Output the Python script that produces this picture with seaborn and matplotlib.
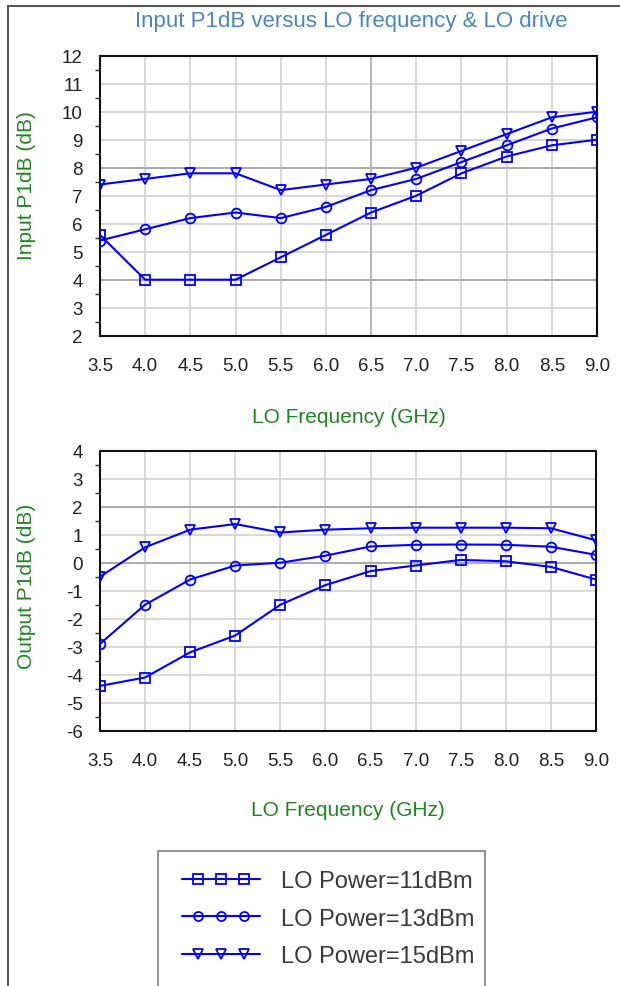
import numpy as np
import pandas as pd
import matplotlib
matplotlib.use("Agg")
import matplotlib.pyplot as plt
import seaborn as sns
from matplotlib.lines import Line2D
from matplotlib.legend_handler import HandlerLine2D
from matplotlib.patches import Rectangle
from matplotlib.ticker import MultipleLocator, FormatStrFormatter

# ---------------- data ----------------
freq = [3.5, 4.0, 4.5, 5.0, 5.5, 6.0, 6.5, 7.0, 7.5, 8.0, 8.5, 9.0]
series_labels = ["LO Power=11dBm", "LO Power=13dBm", "LO Power=15dBm"]

in_p1db_11 = [5.6, 4.0, 4.0, 4.0, 4.8, 5.6, 6.4, 7.0, 7.8, 8.4, 8.8, 9.0]
in_p1db_13 = [5.4, 5.8, 6.2, 6.4, 6.2, 6.6, 7.2, 7.6, 8.2, 8.8, 9.4, 9.8]
in_p1db_15 = [7.4, 7.6, 7.8, 7.8, 7.2, 7.4, 7.6, 8.0, 8.6, 9.2, 9.8, 10.0]

out_p1db_11 = [-4.4, -4.1, -3.2, -2.6, -1.5, -0.8, -0.3, -0.1, 0.1, 0.05, -0.15, -0.6]
out_p1db_13 = [-2.9, -1.5, -0.6, -0.1, 0.0, 0.25, 0.58, 0.64, 0.65, 0.64, 0.57, 0.28]
out_p1db_15 = [-0.5, 0.55, 1.18, 1.38, 1.08, 1.18, 1.23, 1.25, 1.25, 1.25, 1.23, 0.8]

y_ticks_in = list(range(2, 13))
y_ticks_out = list(range(-6, 5))

title_text = "Input P1dB versus LO frequency & LO drive"
xlabel_text = "LO Frequency (GHz)"
ylabel_in = "Input P1dB (dB)"
ylabel_out = "Output P1dB (dB)"

# ---------------- style ----------------
sns.set_style("white")
plt.rcParams["font.family"] = ["Liberation Sans", "DejaVu Sans"]
plt.rcParams["axes.unicode_minus"] = False

BLUE = "#0000ff"
GREEN = "#1f861f"
markers = ["s", "o", "v"]
MS = 7
MEW = 1.3
LW = 1.5

W, H = 620, 987
fig = plt.figure(figsize=(W / 100, H / 100), dpi=100)


def fx(px):
    return px / W


def fy(py):
    return 1 - py / H


ax1 = fig.add_axes([fx(100), fy(336.7), fx(597) - fx(100), (336.7 - 56.7) / H])
ax2 = fig.add_axes([fx(100), fy(731.7), fx(596) - fx(100), (731.7 - 451.7) / H])


def long_df(vals):
    return pd.DataFrame({
        "freq": freq * 3,
        "p1db": vals[0] + vals[1] + vals[2],
        "series": [s for s in series_labels for _ in freq],
    })


panels = [
    (ax1, long_df([in_p1db_11, in_p1db_13, in_p1db_15]), y_ticks_in, ylabel_in, [4, 8], 0.54, -0.287),
    (ax2, long_df([out_p1db_11, out_p1db_13, out_p1db_15]), y_ticks_out, ylabel_out, [0, 2], 0.52, -0.28),
]

for ax, df, yt, ylab, dark_y, ylab_y, xlab_y in panels:
    sns.lineplot(
        data=df, x="freq", y="p1db", hue="series", style="series",
        markers=markers, dashes=False, palette=[BLUE] * 3,
        ax=ax, legend=False, markerfacecolor="none",
        markeredgecolor=BLUE, markeredgewidth=MEW, markersize=MS,
        linewidth=LW, zorder=3,
    )
    ax.set_xlim(freq[0], freq[-1])
    ax.set_ylim(yt[0], yt[-1])
    ax.set_xticks(freq)
    ax.xaxis.set_major_formatter(FormatStrFormatter("%.1f"))
    ax.set_yticks(yt)
    ax.yaxis.set_minor_locator(MultipleLocator(0.5))
    ax.set_axisbelow(True)
    ax.grid(True, which="major", color="#d2d2d2", linewidth=1.2)
    for v in dark_y:
        ax.axhline(v, color="#a8a8a8", linewidth=1.3, zorder=1)
    for s in ax.spines.values():
        s.set_visible(True)
        s.set_color("#111111")
        s.set_linewidth(1.5)
    ax.tick_params(axis="both", which="major", direction="out", length=9.4,
                   width=1.2, color="#333333", labelsize=13.5,
                   labelcolor="#222222", pad=3)
    ax.tick_params(axis="x", which="major", pad=6)
    ax.tick_params(axis="y", which="minor", direction="out", length=3.6,
                   width=1.0, color="#333333", left=True)
    ax.set_xlabel(xlabel_text, color=GREEN, fontsize=15)
    ax.xaxis.label.set_va("center")
    ax.xaxis.set_label_coords(0.5, xlab_y)
    ax.set_ylabel(ylab, color=GREEN, fontsize=15)
    ax.yaxis.label.set_va("center")
    ax.yaxis.set_label_coords(-0.148, ylab_y)

ax1.axvline(6.5, color="#b4b4b4", linewidth=1.3, zorder=1)

# title
fig.text(fx(351), fy(21), title_text, ha="center", va="center",
         color="#4a86c5", fontsize=16)

# outer frame lines
fig.add_artist(Line2D([fx(8), fx(8)], [0, fy(7)], transform=fig.transFigure,
                      color="#555555", linewidth=1.5))
fig.add_artist(Line2D([fx(8), 1], [fy(7), fy(7)], transform=fig.transFigure,
                      color="#555555", linewidth=1.5))

# legend box
fig.add_artist(Rectangle((fx(158), -0.01), fx(485) - fx(158), fy(852) + 0.01,
                         transform=fig.transFigure, fill=False,
                         edgecolor="#8a8a8a", linewidth=1.3))


class ThreeMarkerHandler(HandlerLine2D):
    """Line spanning the full handle width with three evenly spaced markers."""

    def create_artists(self, legend, orig_handle, xdescent, ydescent,
                       width, height, fontsize, trans):
        pad = self._marker_pad * fontsize
        x0, x1 = -xdescent, -xdescent + width
        xm = np.linspace(x0 + pad, x1 - pad, 3)
        xdata = np.concatenate([[x0], xm, [x1]])
        ydata = np.full_like(xdata, (height - ydescent) / 2)
        legline = Line2D(xdata, ydata)
        self.update_prop(legline, orig_handle, legend)
        legline.set_markevery([1, 2, 3])
        legline.set_transform(trans)
        return [legline]


handles = [Line2D([], [], color=BLUE, marker=m, markerfacecolor="none",
                  markeredgecolor=BLUE, markeredgewidth=MEW, markersize=6.5,
                  linewidth=LW) for m in markers]
fig.legend(handles, series_labels, loc="upper left",
           bbox_to_anchor=(fx(182), fy(871)), frameon=False,
           handler_map={Line2D: ThreeMarkerHandler(marker_pad=0.68)},
           handlelength=3.3, handletextpad=0.9, labelspacing=0.66,
           borderpad=0, borderaxespad=0, fontsize=17, labelcolor="#3a3a3a")

fig.savefig("out.png", dpi=100)
